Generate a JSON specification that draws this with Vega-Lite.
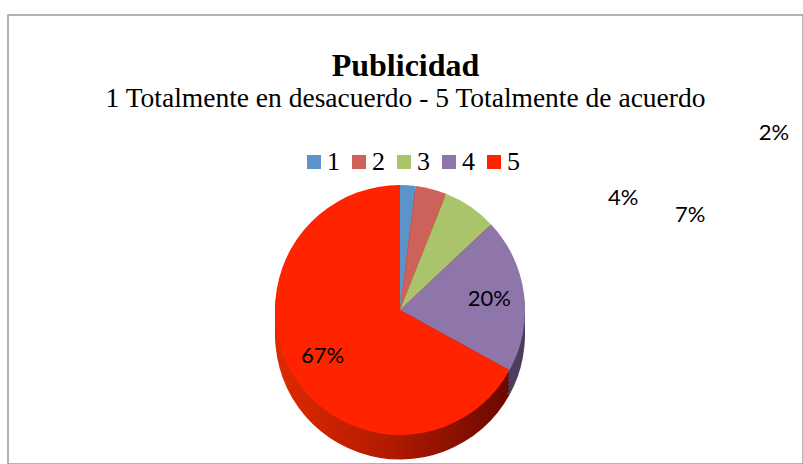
{
  "$schema": "https://vega.github.io/schema/vega-lite/v6.json",
  "width": 795,
  "height": 449,
  "autosize": {"type": "none"},
  "padding": {"left": 8, "top": 15, "right": 0, "bottom": 0},
  "background": "white",
  "view": {"stroke": "#9a9a9a", "strokeWidth": 1.5},
  "config": {"view": {"stroke": "#9a9a9a", "strokeWidth": 1.5}},
  "title": {
    "text": "Publicidad",
    "subtitle": "1 Totalmente en desacuerdo - 5 Totalmente de acuerdo",
    "anchor": "middle",
    "frame": "group",
    "orient": "top",
    "offset": -98,
    "font": "Liberation Serif",
    "fontSize": 32,
    "fontWeight": "bold",
    "color": "#000000",
    "subtitleFont": "Liberation Serif",
    "subtitleFontSize": 27.5,
    "subtitleColor": "#000000",
    "subtitlePadding": 2
  },
  "data": {
    "values": [
      {"cat": "1", "pct": 2, "label": "2%"},
      {"cat": "2", "pct": 4, "label": "4%"},
      {"cat": "3", "pct": 7, "label": "7%"},
      {"cat": "4", "pct": 20, "label": "20%"},
      {"cat": "5", "pct": 67, "label": "67%"}
    ]
  },
  "encoding": {
    "theta": {"field": "pct", "type": "quantitative", "stack": true},
    "order": {"field": "cat", "type": "ordinal", "sort": "ascending"}
  },
  "layer": [
    {
      "mark": {"type": "arc", "outerRadius": 125, "xOffset": -5.5, "yOffset": 95},
      "encoding": {"fill": {"condition": {"test": "datum.cat === '4'", "value": "#4b3f5f"}, "value": {"gradient": "linear", "x1": 0, "x2": 1, "y1": 0, "y2": 0, "stops": [{"offset": 0, "color": "#e02a00"}, {"offset": 0.5, "color": "#b01a00"}, {"offset": 1, "color": "#6a0800"}]}}}
    },
    {
      "mark": {"type": "arc", "outerRadius": 125, "xOffset": -5.5, "yOffset": 90},
      "encoding": {"fill": {"condition": {"test": "datum.cat === '4'", "value": "#4b3f5f"}, "value": {"gradient": "linear", "x1": 0, "x2": 1, "y1": 0, "y2": 0, "stops": [{"offset": 0, "color": "#e02a00"}, {"offset": 0.5, "color": "#b01a00"}, {"offset": 1, "color": "#6a0800"}]}}}
    },
    {
      "mark": {"type": "arc", "outerRadius": 125, "xOffset": -5.5, "yOffset": 86},
      "encoding": {"fill": {"condition": {"test": "datum.cat === '4'", "value": "#4b3f5f"}, "value": {"gradient": "linear", "x1": 0, "x2": 1, "y1": 0, "y2": 0, "stops": [{"offset": 0, "color": "#e02a00"}, {"offset": 0.5, "color": "#b01a00"}, {"offset": 1, "color": "#6a0800"}]}}}
    },
    {
      "mark": {"type": "arc", "outerRadius": 125, "xOffset": -5.5, "yOffset": 82},
      "encoding": {"fill": {"condition": {"test": "datum.cat === '4'", "value": "#4b3f5f"}, "value": {"gradient": "linear", "x1": 0, "x2": 1, "y1": 0, "y2": 0, "stops": [{"offset": 0, "color": "#e02a00"}, {"offset": 0.5, "color": "#b01a00"}, {"offset": 1, "color": "#6a0800"}]}}}
    },
    {
      "mark": {"type": "arc", "outerRadius": 125, "xOffset": -5.5, "yOffset": 78},
      "encoding": {"fill": {"condition": {"test": "datum.cat === '4'", "value": "#4b3f5f"}, "value": {"gradient": "linear", "x1": 0, "x2": 1, "y1": 0, "y2": 0, "stops": [{"offset": 0, "color": "#e02a00"}, {"offset": 0.5, "color": "#b01a00"}, {"offset": 1, "color": "#6a0800"}]}}}
    },
    {
      "mark": {"type": "arc", "outerRadius": 125, "xOffset": -5.5, "yOffset": 74},
      "encoding": {"fill": {"condition": {"test": "datum.cat === '4'", "value": "#4b3f5f"}, "value": {"gradient": "linear", "x1": 0, "x2": 1, "y1": 0, "y2": 0, "stops": [{"offset": 0, "color": "#e02a00"}, {"offset": 0.5, "color": "#b01a00"}, {"offset": 1, "color": "#6a0800"}]}}}
    },
    {
      "mark": {"type": "arc", "outerRadius": 125, "xOffset": -5.5, "yOffset": 70.5},
      "encoding": {
        "color": {
          "field": "cat",
          "type": "nominal",
          "scale": {"domain": ["1", "2", "3", "4", "5"], "range": ["#5c93c9", "#cd625b", "#a9c46b", "#8e76ab", "#ff2300"]},
          "legend": {
            "title": null,
            "orient": "none",
            "direction": "horizontal",
            "legendX": 293,
            "legendY": 134,
            "symbolType": "square",
            "symbolSize": 196,
            "symbolStrokeWidth": 0,
            "labelFont": "Liberation Serif",
            "labelFontSize": 26,
            "labelColor": "#000000",
            "labelOffset": 0,
            "columnPadding": 6,
            "padding": 0
          }
        }
      }
    },
    {
      "mark": {"type": "text", "radius": 90, "xOffset": -5.5, "yOffset": 70.5, "font": "Lato", "fontSize": 22, "color": "#000000"},
      "encoding": {"text": {"condition": {"test": "datum.cat === '4' || datum.cat === '5'", "field": "label"}, "value": ""}}
    },
    {
      "mark": {"type": "text", "radius": 125, "xOffset": -5.5, "yOffset": 70.5, "dx": 366, "dy": -52, "font": "Lato", "fontSize": 22, "color": "#000000"},
      "encoding": {"text": {"condition": {"test": "datum.cat === '1'", "field": "label"}, "value": ""}}
    },
    {
      "mark": {"type": "text", "radius": 125, "xOffset": -5.5, "yOffset": 70.5, "dx": 192, "dy": 9, "font": "Lato", "fontSize": 22, "color": "#000000"},
      "encoding": {"text": {"condition": {"test": "datum.cat === '2'", "field": "label"}, "value": ""}}
    },
    {
      "mark": {"type": "text", "radius": 125, "xOffset": -5.5, "yOffset": 70.5, "dx": 220, "dy": 8, "font": "Lato", "fontSize": 22, "color": "#000000"},
      "encoding": {"text": {"condition": {"test": "datum.cat === '3'", "field": "label"}, "value": ""}}
    }
  ]
}
